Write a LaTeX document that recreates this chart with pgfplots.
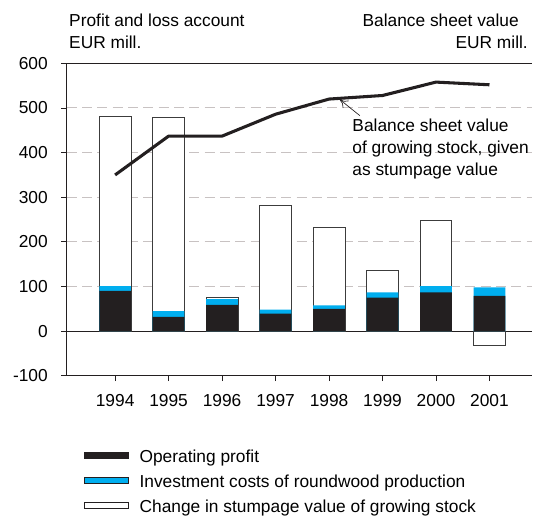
\documentclass[border=0pt]{standalone}
\usepackage{fontspec}
\setmainfont{Liberation Sans}
\usepackage{pgfplots}
\pgfplotsset{compat=1.18}
\usetikzlibrary{arrows.meta}
\definecolor{opblack}{HTML}{231F20}
\definecolor{invblue}{HTML}{00AEEF}
\definecolor{gridgrey}{RGB}{200,194,194}
\definecolor{edgegrey}{RGB}{60,60,60}
\begin{document}
\begin{tikzpicture}[font=\fontsize{13}{16}\selectfont]
\useasboundingbox (-50pt,-107.5pt) rectangle (349.7pt,281.8pt);
\begin{axis}[
  scale only axis, width=348.75pt, height=234.3pt,
  xmin=-0.906, xmax=7.79, ymin=-100, ymax=600,
  axis x line=box, axis y line=left,
  axis line style={-, line width=0.8pt, opblack},
  x axis line style={line width=1pt},
  tick pos=left, tick align=outside, major tick length=4pt,
  tick style={opblack, line width=0.6pt},
  xtick={0,...,7}, xticklabels={1994,1995,1996,1997,1998,1999,2000,2001},
  ytick={-100,0,100,200,300,400,500,600},
  yticklabels={-100,0,100,200,300,400,500,600},
  tick label style={font=\fontsize{13}{16}\selectfont, inner sep=0pt},
  xticklabel style={yshift=-10pt},
  yticklabel style={xshift=-10pt},
  ymajorgrids,
  major grid style={gridgrey, dash pattern=on 7.5pt off 4pt, line width=0.75pt},
  extra y ticks={0}, extra y tick labels={},
  extra y tick style={major tick length=0pt, major grid style={solid, opblack, line width=0.75pt}},
  reverse legend,
  legend cell align=left,
  legend style={at={(0,0)}, anchor=north west, xshift=13pt, yshift=-55.2pt,
    draw=none, fill=none, inner sep=0pt, row sep=6.8pt, column sep=8pt,
    font=\fontsize{13}{16}\selectfont,
    nodes={inner sep=0pt, text height=9.4pt, text depth=2.6pt}},
  legend image code/.code={\draw[#1, draw=opblack, line width=0.5pt] (0pt,-0.15pt) rectangle (33pt,4.35pt);},
]
% change in stumpage value (drawn as top of whole bar)
\addplot[ybar, bar width=23.8pt, bar shift=0pt, fill=white, draw=edgegrey, line width=0.6pt]
  coordinates {(0,482) (1,478) (2,75) (3,282) (4,233) (5,135) (6,248) (7,-31)};
% investment costs (top of blue)
\addplot[ybar, bar width=23.8pt, bar shift=0pt, fill=invblue, draw=none]
  coordinates {(0,101) (1,45) (2,72) (3,48) (4,58) (5,87) (6,101) (7,98)};
% operating profit
\addplot[ybar, bar width=23.8pt, bar shift=0pt, fill=opblack, draw=none]
  coordinates {(0,90) (1,32) (2,59) (3,39) (4,50) (5,75) (6,87) (7,79)};
\legend{Change in stumpage value of growing stock, Investment costs of roundwood production, Operating profit}
% balance sheet value line
\addplot[opblack, line width=2.3pt, line join=round, mark=none, forget plot]
  coordinates {(0,350) (1,437) (2,437) (3,486) (4,520) (5,528) (6,558) (7,552)};
\draw[-{To[length=6pt,width=7pt]}, line width=0.5pt, opblack] (axis cs:4.575,483) -- (axis cs:4.2,519);
\node[anchor=base west, inner sep=0pt] at (axis cs:4.433,447) {Balance sheet value};
\node[anchor=base west, inner sep=0pt] at (axis cs:4.433,398.3) {of growing stock, given};
\node[anchor=base west, inner sep=0pt] at (axis cs:4.433,349.6) {as stumpage value};
\end{axis}
\node[anchor=base west, inner sep=0pt] at (1.7pt,261.75pt) {Profit and loss account};
\node[anchor=base west, inner sep=0pt] at (1.7pt,245.55pt) {EUR mill.};
\node[anchor=base east, inner sep=0pt] at (339.2pt,261.75pt) {Balance sheet value};
\node[anchor=base east, inner sep=0pt] at (346pt,245.55pt) {EUR mill.};
\end{tikzpicture}
\end{document}
